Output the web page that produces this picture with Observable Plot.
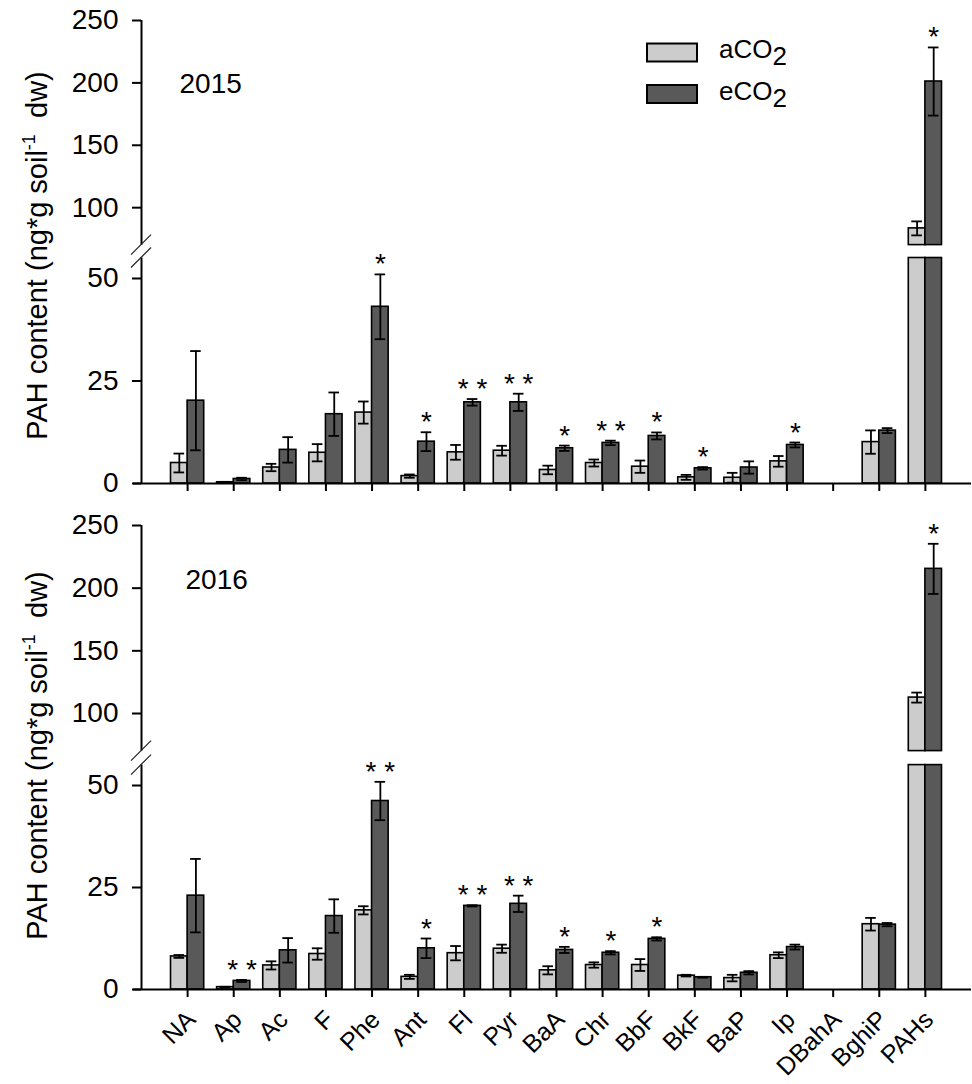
<!DOCTYPE html>
<html>
<head>
<meta charset="utf-8">
<script src="https://cdn.jsdelivr.net/npm/d3@7"></script>
<script src="https://cdn.jsdelivr.net/npm/@observablehq/plot@0.6"></script>
<style>
  body { margin: 0; background: #fff; }
  #chart { width: 972px; height: 1084px; position: relative; background: #fff; }
  #chart svg { display: block; }
</style>
</head>
<body>
<div id="chart"></div>
<script>
// ---------- data ----------
const categories = ["NA","Ap","Ac","F","Phe","Ant","Fl","Pyr","BaA","Chr","BbF","BkF","BaP","Ip","DBahA","BghiP","PAHs"];
const treatments = ["aCO2","eCO2"];
const yTicks = [0, 25, 50, 100, 150, 200, 250];

const a2015   = [5.0, 0.3, 3.9, 7.5, 17.3, 1.8, 7.6, 8.0, 3.3, 5.0, 4.1, 1.5, 1.4, 5.4, null, 10.1, 83.4];
const a2015se = [2.3, 0.1, 0.9, 2.1, 2.7, 0.4, 1.8, 1.2, 1.05, 0.85, 1.5, 0.6, 1.2, 1.3, null, 2.85, 5.6];
const e2015   = [20.2, 1.1, 8.2, 16.9, 43.1, 10.2, 19.8, 19.8, 8.6, 9.9, 11.6, 3.7, 3.9, 9.4, null, 12.9, 201.1];
const e2015se = [12.1, 0.3, 3.1, 5.3, 7.9, 2.3, 0.8, 2.1, 0.65, 0.55, 0.85, 0.3, 1.5, 0.6, null, 0.6, 27.3];
const sig2015 = ["", "", "", "", "*", "*", "**", "**", "*", "**", "*", "*", "", "*", "", "", "*"];

const a2016   = [8.1, 0.57, 5.9, 8.7, 19.4, 3.1, 8.9, 10.0, 4.7, 6.0, 6.0, 3.4, 2.8, 8.4, null, 16.0, 112.7];
const a2016se = [0.35, 0.1, 1.0, 1.4, 1.0, 0.5, 1.75, 1.0, 1.0, 0.65, 1.45, 0.2, 0.8, 0.7, null, 1.55, 4.0];
const e2016   = [23.0, 2.1, 9.6, 18.0, 46.2, 10.1, 20.5, 21.0, 9.7, 9.0, 12.4, 3.0, 4.1, 10.4, null, 15.9, 215.4];
const e2016se = [9.0, 0.25, 3.0, 4.1, 4.7, 2.4, 0.15, 2.0, 0.75, 0.4, 0.4, 0.1, 0.4, 0.6, null, 0.4, 20.0];
const sig2016 = ["", "**", "", "", "**", "*", "**", "**", "*", "*", "*", "", "", "", "", "", "*"];

// ---------- helpers ----------
const FONT = "'Liberation Sans', Arial, Helvetica, sans-serif";
const BREAK_LO = 55, BREAK_HI = 70;
const W = 0.36;      // bar width in category units
const CAP = 0.115;   // half cap width in category units

function buildRows(a, aSe, e, eSe, sig) {
  const out = [];
  categories.forEach((c, i) => {
    const pos = i + 1;
    if (a[i] != null) out.push({cat: c, pos, trt: "aCO2", v: a[i], se: aSe[i], sig: ""});
    if (e[i] != null) out.push({cat: c, pos, trt: "eCO2", v: e[i], se: eSe[i], sig: sig[i]});
  });
  return out;
}
const x1 = d => d.trt === "aCO2" ? d.pos - W : d.pos;
const x2 = d => d.trt === "aCO2" ? d.pos : d.pos + W;
const cx = d => d.trt === "aCO2" ? d.pos - W / 2 : d.pos + W / 2;

function panel(opts) {
  const {year, rows, height, marginBottom, yRange, yearDx, yearDy, showLabels, legend, titleY} = opts;
  const marks = [
    Plot.rect(rows, {x1, x2, y1: 0, y2: d => Math.min(d.v, BREAK_LO), fill: "trt", stroke: "#000", strokeWidth: 1.6}),
    Plot.rect(rows.filter(d => d.v > BREAK_HI), {x1, x2, y1: BREAK_HI, y2: "v", fill: "trt", stroke: "#000", strokeWidth: 1.6}),
    Plot.ruleX(rows, {x: cx, y1: d => d.v - d.se, y2: d => d.v + d.se, stroke: "#000", strokeWidth: 1.8}),
    Plot.ruleY(rows, {y: d => d.v + d.se, x1: d => cx(d) - CAP, x2: d => cx(d) + CAP, stroke: "#000", strokeWidth: 1.8}),
    Plot.ruleY(rows, {y: d => d.v - d.se, x1: d => cx(d) - CAP, x2: d => cx(d) + CAP, stroke: "#000", strokeWidth: 1.8}),
    Plot.text(rows.filter(d => d.sig), {x: cx, y: d => d.v + d.se, text: d => d.sig.split("").join(" "),
      lineAnchor: "bottom", dy: -1, fontSize: 28, fill: "#000"}),
    // broken y axis line
    Plot.ruleX([0], {y1: 0, y2: BREAK_LO, stroke: "#000", strokeWidth: 2}),
    Plot.ruleX([0], {y1: BREAK_HI, y2: 250, stroke: "#000", strokeWidth: 2}),
    // x axis line
    Plot.ruleY([0], {x1: 0, x2: 18, insetLeft: -8, stroke: "#000", strokeWidth: 2}),
    Plot.axisY({anchor: "left", ticks: yTicks, tickSize: 9, tickPadding: 14, fontSize: 28, strokeWidth: 2, label: null}),
    Plot.axisX({anchor: "bottom", ticks: categories.map((c, i) => i + 1), tickSize: 8, tickFormat: () => "", strokeWidth: 2, label: null}),
    Plot.text([year], {frameAnchor: "top-left", dx: yearDx, dy: yearDy, textAnchor: "start", lineAnchor: "bottom", fontSize: 28, fill: "#000"})
  ];
  if (showLabels) {
    marks.push(Plot.text(categories, {x: (d, i) => i + 1, text: d => d, frameAnchor: "bottom",
      rotate: -45, textAnchor: "end", lineAnchor: "top", dx: -3, dy: 19, fontSize: 25, fill: "#000"}));
  }
  const plot = Plot.plot({
    width: 972, height,
    marginTop: 20, marginBottom, marginLeft: 141, marginRight: 1,
    style: {fontFamily: FONT, fontSize: "28px", color: "#000", background: "#fff", overflow: "visible"},
    x: {type: "linear", domain: [0, 18]},
    y: {type: "linear", domain: [0, BREAK_LO, BREAK_HI, 250], range: yRange},
    color: {domain: treatments, range: ["#cccccc", "#595959"]},
    marks
  });

  // decorations drawn with the plot's own scales
  const sel = d3.select(plot);
  const xs = plot.scale("x"), ys = plot.scale("y");
  const ax = xs.apply(0);
  [BREAK_LO, BREAK_HI].forEach(v => {
    const yy = ys.apply(v);
    sel.append("line").attr("x1", ax - 10).attr("y1", yy + 10).attr("x2", ax + 10).attr("y2", yy - 10)
      .attr("stroke", "#222").attr("stroke-width", 1.2);
  });
  // y axis title
  const t = sel.append("text").attr("transform", `translate(47,${titleY}) rotate(-90)`)
    .attr("text-anchor", "middle").attr("font-family", FONT).attr("font-size", 29).attr("fill", "#000");
  t.append("tspan").text("PAH content (ng*g soil");
  t.append("tspan").attr("font-size", 18).attr("dy", -12).text("-1");
  t.append("tspan").attr("dy", 12).text("\u00a0 dw)");

  if (legend) {
    const color = plot.scale("color");
    const L = [{k: "aCO2", lab: "aCO", y: 43.5, ty: 58.3}, {k: "eCO2", lab: "eCO", y: 85, ty: 100}];
    L.forEach(l => {
      sel.append("rect").attr("x", 647).attr("y", l.y).attr("width", 50).attr("height", 18)
        .attr("fill", color.apply(l.k)).attr("stroke", "#000").attr("stroke-width", 2);
      const tt = sel.append("text").attr("x", 719).attr("y", l.ty).attr("font-family", FONT)
        .attr("text-anchor", "start").attr("font-size", 26).attr("fill", "#000");
      tt.append("tspan").text(l.lab);
      tt.append("tspan").attr("dy", 7).text("2");
    });
  }
  return plot;
}

const chart = document.getElementById("chart");
chart.append(panel({
  year: "2015", rows: buildRows(a2015, a2015se, e2015, e2015se, sig2015),
  height: 505, marginBottom: 22, yRange: [483, 257.5, 244.6, 20],
  yearDx: 38, yearDy: 72, showLabels: false, legend: true, titleY: 255.5
}));
chart.append(panel({
  year: "2016", rows: buildRows(a2016, a2016se, e2016, e2016se, sig2016),
  height: 579, marginBottom: 95, yRange: [484, 259.6, 245.6, 20],
  yearDx: 44, yearDy: 63, showLabels: true, legend: false, titleY: 250.5
}));
</script>
</body>
</html>
